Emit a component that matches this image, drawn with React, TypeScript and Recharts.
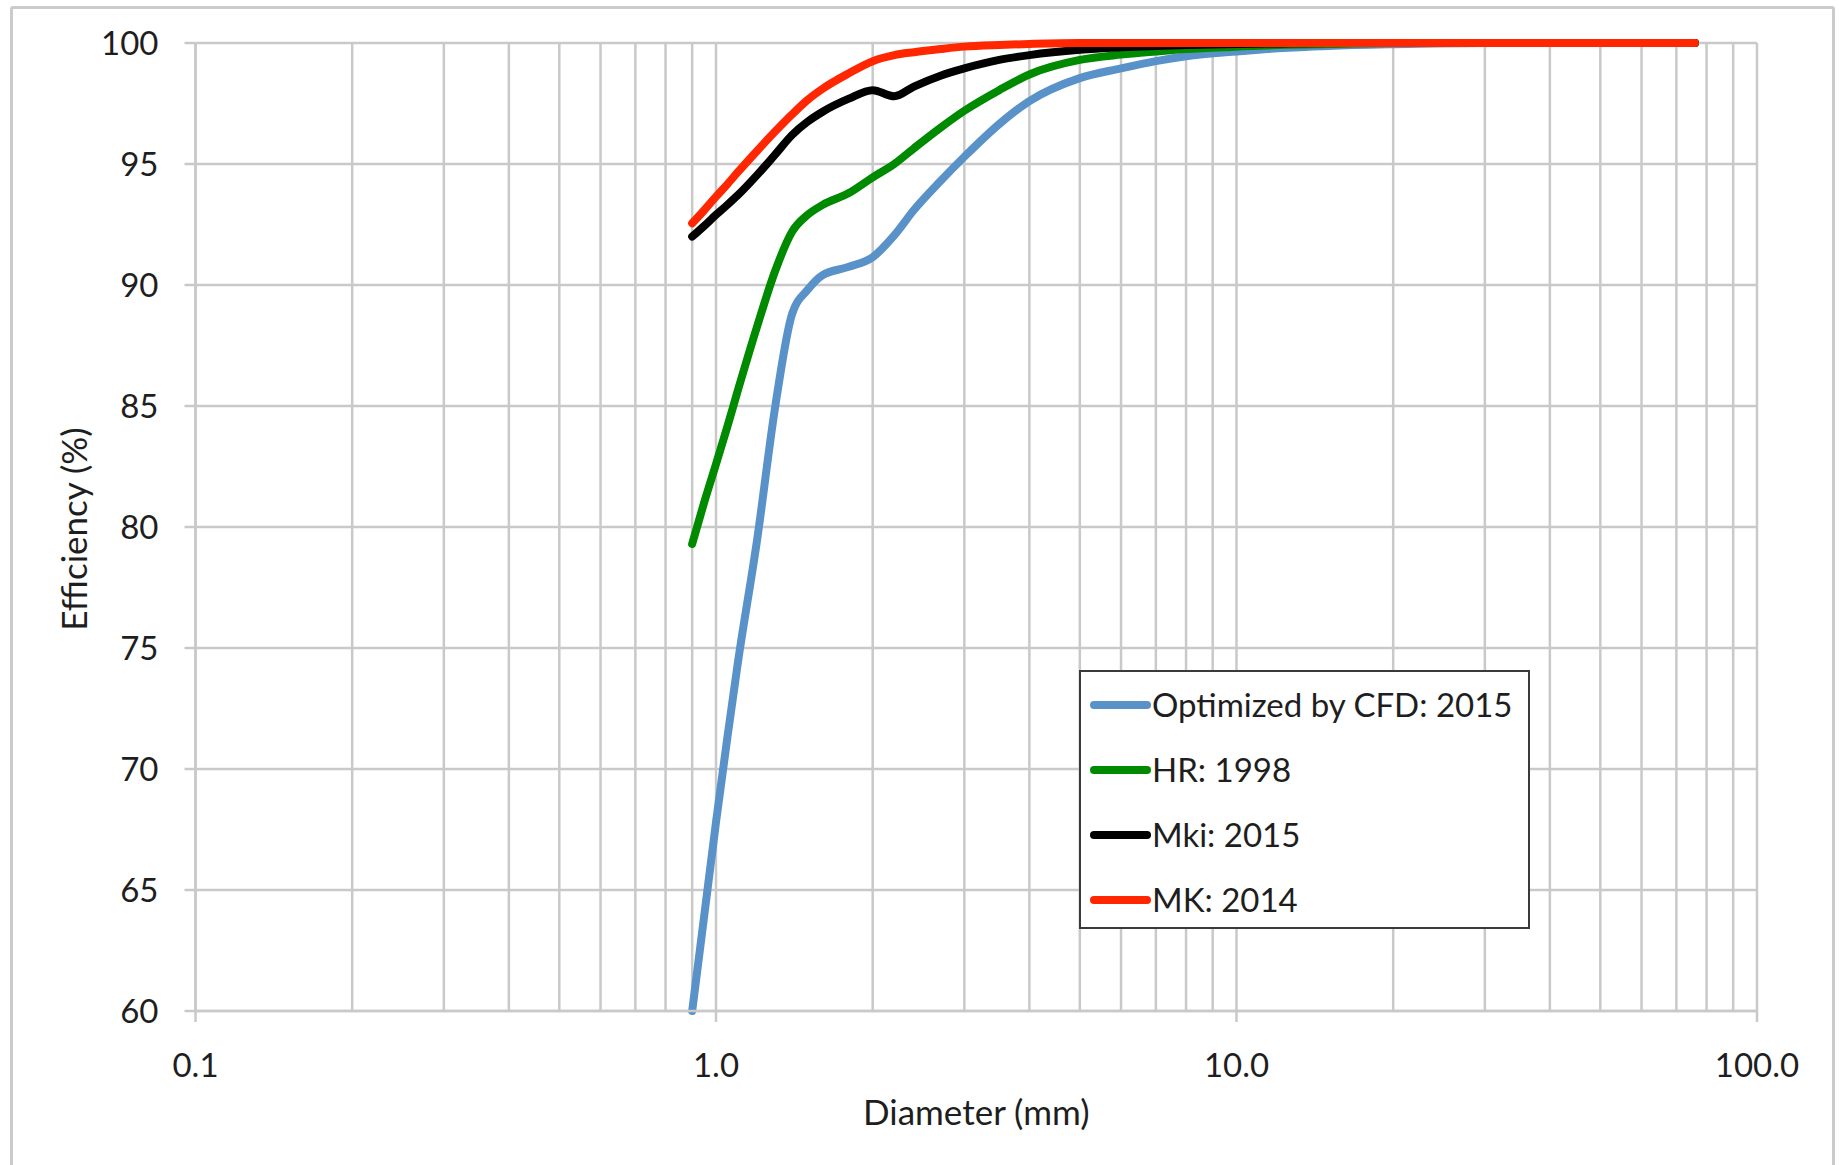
import { LineChart, Line, XAxis, YAxis, CartesianGrid, Legend } from 'recharts'

// particle diameter (mm) and capture efficiency (%) per design
const diameters = [
  0.9, 0.95, 1.0, 1.05, 1.1, 1.2, 1.3, 1.4, 1.5, 1.6, 1.8, 2.0, 2.2, 2.4, 2.7, 3.0, 3.5, 4.0, 5.0,
  6.0, 7.0, 8.0, 10, 12, 15, 20, 30, 45, 76,
]
const cfd2015 = [
  60.0, 64.0, 67.8, 71.2, 74.3, 79.5, 85.0, 88.8, 89.8, 90.4, 90.75, 91.15, 92.05, 93.1, 94.3, 95.3,
  96.65, 97.6, 98.55, 98.95, 99.25, 99.45, 99.65, 99.78, 99.88, 99.95, 100, 100, 100,
]
const hr1998 = [
  79.3, 81.05, 82.6, 84.1, 85.6, 88.3, 90.6, 92.2, 92.9, 93.3, 93.8, 94.45, 95.0, 95.65, 96.5, 97.2,
  98.05, 98.7, 99.3, 99.52, 99.65, 99.75, 99.85, 99.92, 99.96, 100, 100, 100, 100,
]
const mki2015 = [
  92.0, 92.45, 92.9, 93.3, 93.7, 94.55, 95.4, 96.2, 96.75, 97.15, 97.7, 98.05, 97.8, 98.2, 98.65,
  98.95, 99.3, 99.5, 99.72, 99.82, 99.88, 99.92, 99.96, 99.98, 100, 100, 100, 100, 100,
]
const mk2014 = [
  92.55, 93.1, 93.65, 94.15, 94.65, 95.55, 96.35, 97.05, 97.65, 98.1, 98.75, 99.25, 99.5, 99.62,
  99.75, 99.85, 99.92, 99.96, 100, 100, 100, 100, 100, 100, 100, 100, 100, 100, 100,
]

const seriesNames = ['Optimized by CFD: 2015', 'HR: 1998', 'Mki: 2015', 'MK: 2014']

const majorTicks = [0.1, 1, 10, 100]
const majorLabels = ['0.1', '1.0', '10.0', '100.0']
// log gridlines: 0.1..0.9, 1..9, 10..90, 100
const gridTicks = [
  0.1, 0.2, 0.3, 0.4, 0.5, 0.6, 0.7, 0.8, 0.9, 1, 2, 3, 4, 5, 6, 7, 8, 9, 10, 20, 30, 40, 50, 60,
  70, 80, 90, 100,
]
const yTicks = [60, 65, 70, 75, 80, 85, 90, 95, 100]

const data = diameters.map((d, i) => ({
  d,
  cfd: cfd2015[i],
  hr: hr1998[i],
  mki: mki2015[i],
  mk: mk2014[i],
}))

const FONT = 'Lato, "Open Sans", sans-serif'
const GRID = '#c9c9c9'
const TEXT = '#1e1e1e'
const LINE_W = 8

function XTick({ x, y, payload }: any) {
  const idx = majorTicks.indexOf(payload.value)
  if (idx < 0) return null
  return (
    <g>
      <line x1={x} x2={x} y1={y} y2={y + 11} stroke={GRID} strokeWidth={2.5} />
      <text x={x} y={y + 66} textAnchor="middle" fontSize={33} fontFamily={FONT} fill={TEXT}>
        {majorLabels[idx]}
      </text>
    </g>
  )
}

function LegendBox({ payload }: any) {
  const items = [...(payload || [])].sort(
    (a: any, b: any) => seriesNames.indexOf(a.value) - seriesNames.indexOf(b.value),
  )
  return (
    <div
      style={{
        width: 451,
        height: 259,
        boxSizing: 'border-box',
        border: '2px solid #3a3a3a',
        background: '#fff',
        fontFamily: FONT,
      }}
    >
      {items.map((p: any) => (
        <div
          key={p.value}
          style={{ height: 65, display: 'flex', alignItems: 'center', paddingLeft: 8 }}
        >
          <svg width={63} height={12} style={{ display: 'block' }}>
            <line
              x1={5}
              x2={58}
              y1={6}
              y2={6}
              stroke={p.color}
              strokeWidth={LINE_W}
              strokeLinecap="round"
            />
          </svg>
          <span style={{ fontSize: 33, color: TEXT, lineHeight: 1 }}>{p.value}</span>
        </div>
      ))}
    </div>
  )
}

export default function App() {
  return (
    <div
      style={{
        position: 'absolute',
        left: 0,
        top: 0,
        width: 1839,
        height: 1165,
        overflow: 'hidden',
        background: '#fff',
      }}
    >
      <div
        style={{
          position: 'absolute',
          left: 10,
          top: 6,
          width: 1825,
          height: 1200,
          boxSizing: 'border-box',
          border: '3px solid #cbcbcb',
          borderRadius: 3,
        }}
      />
      <div style={{ position: 'absolute', left: 0, top: 0 }}>
        <LineChart
          width={1839}
          height={1165}
          data={data}
          margin={{ top: 43, right: 82, bottom: 34, left: 15.5 }}
        >
          <CartesianGrid stroke={GRID} strokeWidth={2.5} />
          <XAxis
            dataKey="d"
            type="number"
            scale="log"
            domain={[0.1, 100]}
            ticks={gridTicks}
            interval={0}
            height={120}
            tickSize={0}
            tickMargin={0}
            tickLine={false}
            axisLine={{ stroke: GRID, strokeWidth: 2.5 }}
            tick={<XTick />}
            label={{
              value: 'Diameter (mm)',
              position: 'insideBottom',
              offset: 6,
              fontSize: 35,
              fontFamily: FONT,
              fill: TEXT,
            }}
          />
          <YAxis
            type="number"
            domain={[60, 100]}
            ticks={yTicks}
            interval={0}
            width={180}
            tickSize={11}
            tickMargin={26}
            axisLine={{ stroke: GRID, strokeWidth: 2.5 }}
            tickLine={{ stroke: GRID, strokeWidth: 2.5 }}
            tick={{ fontSize: 33, fontFamily: FONT, fill: TEXT }}
            label={{
              value: 'Efficiency (%)',
              angle: -90,
              position: 'center',
              dx: -31,
              dy: 2,
              fontSize: 35,
              fontFamily: FONT,
              fill: TEXT,
            }}
          />
          <Legend
            verticalAlign="middle"
            align="center"
            content={<LegendBox />}
            wrapperStyle={{ left: 1079, top: 670, width: 451 }}
          />
          <Line
            dataKey="cfd"
            name={seriesNames[0]}
            type="monotone"
            stroke="#5892c8"
            strokeWidth={LINE_W}
            strokeLinecap="round"
            dot={false}
            activeDot={false}
            isAnimationActive={false}
          />
          <Line
            dataKey="hr"
            name={seriesNames[1]}
            type="monotone"
            stroke="#008a00"
            strokeWidth={LINE_W}
            strokeLinecap="round"
            dot={false}
            activeDot={false}
            isAnimationActive={false}
          />
          <Line
            dataKey="mki"
            name={seriesNames[2]}
            type="monotone"
            stroke="#000000"
            strokeWidth={LINE_W}
            strokeLinecap="round"
            dot={false}
            activeDot={false}
            isAnimationActive={false}
          />
          <Line
            dataKey="mk"
            name={seriesNames[3]}
            type="monotone"
            stroke="#ff2600"
            strokeWidth={LINE_W}
            strokeLinecap="round"
            dot={false}
            activeDot={false}
            isAnimationActive={false}
          />
        </LineChart>
      </div>
    </div>
  )
}
